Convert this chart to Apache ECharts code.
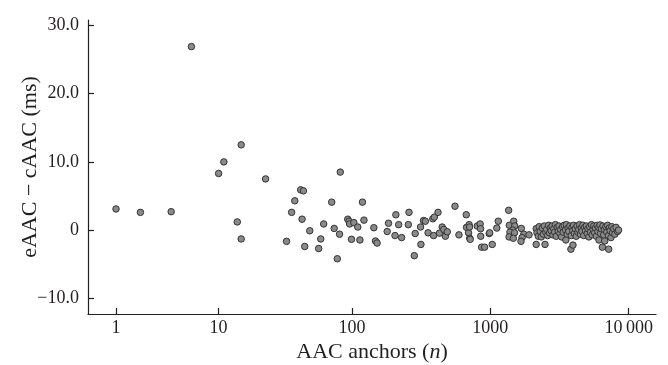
<!DOCTYPE html>
<html><head><meta charset="utf-8">
<script src="https://cdn.jsdelivr.net/npm/echarts@6/dist/echarts.min.js"></script>
<style>html,body{margin:0;padding:0;background:#fff}#c{width:668px;height:365px}</style>
</head><body><div id="c"></div>
<script>
// AAC anchors (n)
const anchorsN = [
  1, 2, 4, 6, 10, 11, 14, 15, 15, 23,
  33, 36, 38, 42, 43, 44, 45, 49, 57, 59,
  62, 71, 74, 78, 81, 82, 93, 95, 96, 99,
  103, 110, 114, 119, 122, 144, 148, 152, 180, 184,
  205, 208, 218, 229, 256, 259, 283, 287, 314, 316,
  330, 340, 356, 385, 390, 395, 420, 430, 450, 462,
  475, 490, 557, 595, 672, 675, 698, 705, 710, 712,
  718, 807, 847, 853, 855, 868, 912, 985, 992, 1036,
  1117, 1145, 1360, 1376, 1480, 1505, 1456, 1390, 1500, 1370,
  1470, 1679, 1750, 1700, 1670, 1909,
  2150, 2180, 2150, 2230, 2260, 2300, 2340, 2380, 2420, 2460,
  2490, 2520, 2560, 2600, 2640, 2680, 2720, 2760, 2800, 2840,
  2880, 2920, 2960, 3000, 3050, 3100, 3140, 3190, 3230, 3280,
  3330, 3370, 3420, 3520, 3500, 3550, 3600, 3650, 3700, 3760,
  3827, 3960, 3850, 3900, 3950, 4000, 4060, 4120, 4180, 4240,
  4300, 4360, 4420, 4480, 4540, 4600, 4670, 4740, 4810, 4880,
  4950, 5020, 5090, 5160, 5230, 5300, 5380, 5450, 5530, 5600,
  5680, 5760, 5840, 5920, 6000, 6080, 6105, 6200, 6280, 6350,
  6457, 6520, 6600, 6690, 6717, 6850, 6950, 7050, 7150, 7250,
  7170, 7350, 7450, 7550, 7650, 7800, 7950, 8100, 8300, 8450
];
// eAAC - cAAC (ms)
const diffMs = [
  3.1, 2.6, 2.7, 26.9, 8.3, 10.0, 1.2, 12.5, -1.3, 7.5,
  -1.65, 2.6, 4.3, 5.9, 1.6, 5.75, -2.4, -0.1, -2.7, -1.3,
  0.9, 4.1, 0.25, -4.2, -0.6, 8.5, 1.6, 1.3, 0.9, -1.35,
  1.1, 0.45, -1.45, 4.1, 1.46, 0.35, -1.6, -1.9, -0.2, 1.0,
  -0.8, 2.25, 0.8, -1.1, 0.8, 2.6, -3.75, -0.5, 0.45, -2.1,
  1.4, 1.3, -0.4, 1.66, -0.8, 1.9, 2.6, -0.45, 0.45, 0.1,
  -0.9, -0.25, 3.5, -0.7, 2.25, 0.4, -0.4, 0.8, 0.45, -1.2,
  -1.35, 0.6, 0.9, 0.2, -0.9, -2.5, -2.5, -0.5, -0.4, -2.1,
  0.3, 1.3, 2.9, 0.7, 1.3, 0.6, 0.0, -0.3, -0.4, -1.0,
  -1.2, 0.25, -0.6, -1.1, -1.65, -0.7,
  0.2, -0.4, -2.1, -0.9, 0.5, -0.2, -1.0, 0.3, -0.6, 0.6,
  -2.1, -0.3, 0.1, -0.8, 0.7, -0.4, 0.3, -0.1, 0.6, -0.7,
  0.2, -0.3, 0.8, -0.9, 0.4, -0.2, 0.6, -0.5, 0.1, -1.0,
  0.5, -0.3, 0.7, -1.45, 0.0, 0.8, -0.6, 0.3, -0.2, 0.6,
  -2.8, -2.2, -0.8, 0.4, -0.1, 0.7, -0.5, 0.2, -0.9, 0.6,
  -0.3, 0.1, 0.8, -0.6, 0.3, -0.2, 0.7, -0.8, 0.4, -0.1,
  0.6, -0.5, 0.2, -1.0, 0.5, -0.3, 0.8, -0.7, 0.1, 0.6,
  -0.4, 0.3, -0.9, 0.7, -0.2, 0.4, -1.45, 0.75, -0.5, 0.2,
  -2.5, 0.6, -0.7, 0.1, -1.6, 0.5, -0.3, 0.7, -0.8, 0.3,
  -2.8, -0.1, -1.1, 0.5, -0.4, 0.2, -0.6, 0.4, -0.2, 0.0
];
const xTickValues = [1, 10, 100, 1000, 10000];
const xTickLabels = ['1', '10', '100', '1000', '10\u2009000'];
const yTickValues = [-10, 0, 10, 20, 30];
const yTickLabels = ['\u221210.0', '0', '10.0', '20.0', '30.0'];

// x axis is log10(n + 1)
const points = anchorsN.map((n, i) => [n + 1, diffMs[i]]);
const FONT = '"Liberation Serif", "DejaVu Serif", serif';
const INK = '#231f20';

const chart = echarts.init(document.getElementById('c'), null, {renderer: 'canvas'});
chart.setOption({
  animation: false,
  backgroundColor: '#fff',
  grid: {left: 88, right: 12, top: 20, bottom: 51, containLabel: false, outerBoundsMode: 'none'},
  xAxis: {
    type: 'log',
    logBase: 10,
    min: 1.256,
    max: 15740,
    name: '{r|AAC anchors (}{i|n}{r|)}',
    nameLocation: 'middle',
    nameGap: 27,
    nameMoveOverlap: false,
    nameTextStyle: {
      rich: {
        r: {fontFamily: FONT, fontSize: 22, color: INK},
        i: {fontFamily: FONT, fontSize: 22, color: INK, fontStyle: 'italic'}
      }
    },
    axisLine: {show: true, onZero: false, lineStyle: {color: INK, width: 1.2}},
    axisTick: {show: true, inside: true, length: 6, lineStyle: {color: INK, width: 1.2},
      customValues: xTickValues.map(v => v + 1)},
    minorTick: {show: false},
    axisLabel: {
      customValues: xTickValues.map(v => v + 1),
      fontFamily: FONT, fontSize: 18, color: INK, margin: 5,
      formatter: function (v) {
        const idx = xTickValues.indexOf(Math.round(v) - 1);
        return idx >= 0 ? xTickLabels[idx] : '';
      }
    },
    splitLine: {show: false}
  },
  yAxis: {
    type: 'value',
    min: -12.3,
    max: 30.8,
    name: 'eAAC \u2212 cAAC (ms)',
    nameLocation: 'middle',
    nameGap: 47,
    nameMoveOverlap: false,
    nameTextStyle: {fontFamily: FONT, fontSize: 22, color: INK},
    axisLine: {show: true, onZero: false, lineStyle: {color: INK, width: 1.2}},
    axisTick: {show: true, inside: true, length: 6, lineStyle: {color: INK, width: 1.2},
      customValues: yTickValues},
    axisLabel: {
      customValues: yTickValues,
      fontFamily: FONT, fontSize: 18, color: INK, margin: 9,
      formatter: function (v) {
        const idx = yTickValues.indexOf(Math.round(v));
        return idx >= 0 ? yTickLabels[idx] : '';
      }
    },
    splitLine: {show: false}
  },
  series: [{
    type: 'scatter',
    data: points,
    symbol: 'circle',
    symbolSize: 6.5,
    itemStyle: {color: '#8a8a8a', borderColor: '#333', borderWidth: 1, opacity: 1}
  }]
});
</script>
</body></html>
